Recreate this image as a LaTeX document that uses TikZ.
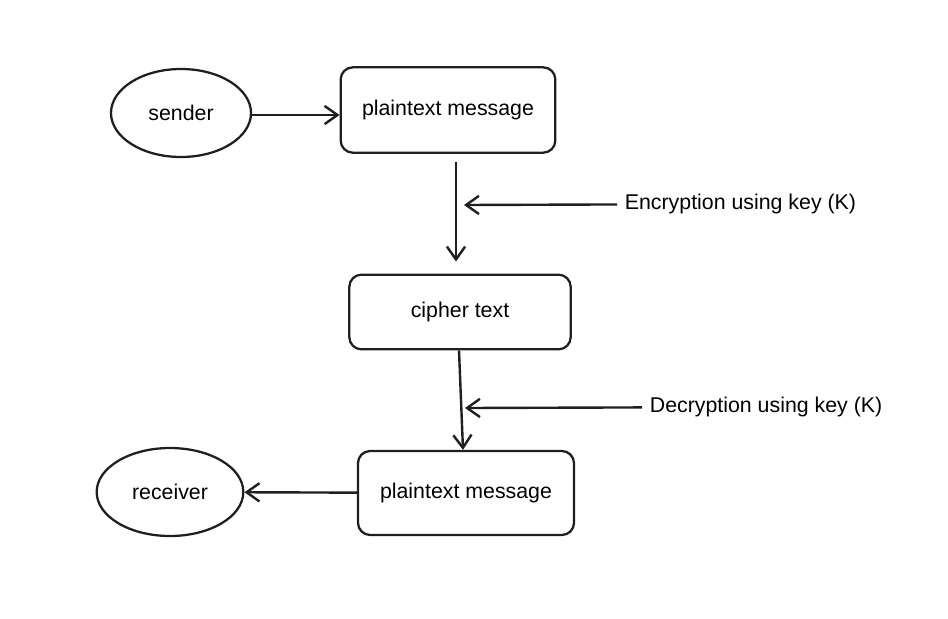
\documentclass[tikz,border=0pt]{standalone}
\usepackage{fontspec}
\setmainfont{Liberation Sans}
\usepackage{tikz}
\usetikzlibrary{positioning, graphs, arrows.meta, calc, shapes.geometric}
\tikzset{actor/.style={
    ellipse,
    draw,
    line width=1.7pt,
    inner sep=0pt,
    font=\fontsize{16}{18}\selectfont
}}
\tikzset{msgbox/.style={
    rectangle,
    draw,
    line width=1.7pt,
    rounded corners=3.2mm,
    inner sep=0pt,
    font=\fontsize{16}{18}\selectfont
}}
\tikzset{keylabel/.style={
    anchor=west,
    inner ysep=0pt,
    inner xsep=5pt,
    font=\fontsize{16}{18}\selectfont
}}

\begin{document}
\begin{tikzpicture}[
    x=0.75pt, y=-0.75pt,
    >={Straight Barb[length=3.4mm, width=4.8mm]}, line width=1.8pt, black!88,
    text=black
]
    \useasboundingbox (0,0) rectangle (948,618);
    % Top row
    \node (S) [actor, minimum width=105pt, minimum height=66pt] at (181,113) {sender};
    \node (P1) [msgbox, minimum width=161pt, minimum height=64pt] at (448,110) {plaintext message};
    % Middle
    \node (C) [msgbox, minimum width=166pt, minimum height=56pt] at (460,312) {cipher text};
    \node (enc) [keylabel] at (617,204) {Encryption using key (K)};
    \coordinate (encend) at (464,205);
    % Bottom row
    \node (P2) [msgbox, minimum width=162pt, minimum height=63pt] at (466,493) {plaintext message};
    \node (dec) [keylabel] at (642,407) {Decryption using key (K)};
    \coordinate (decend) at (465,408);
    \node (R) [actor, minimum width=110pt, minimum height=66pt] at (170,492) {receiver};
    \draw [->] (S.east |- 0,115) -- (P1.west |- 0,115);
    \draw [->] ($(P1.south)+(8,8)$) -- ($(C.north)+(-4,-12)$);
    \draw [->] ($(C.south)+(-1,0)$) -- ($(P2.north)+(-3,0)$);
    \graph [use existing nodes] {
        enc -> encend;
        dec -> decend;
        P2 -> R;
    };
\end{tikzpicture}
\end{document}
